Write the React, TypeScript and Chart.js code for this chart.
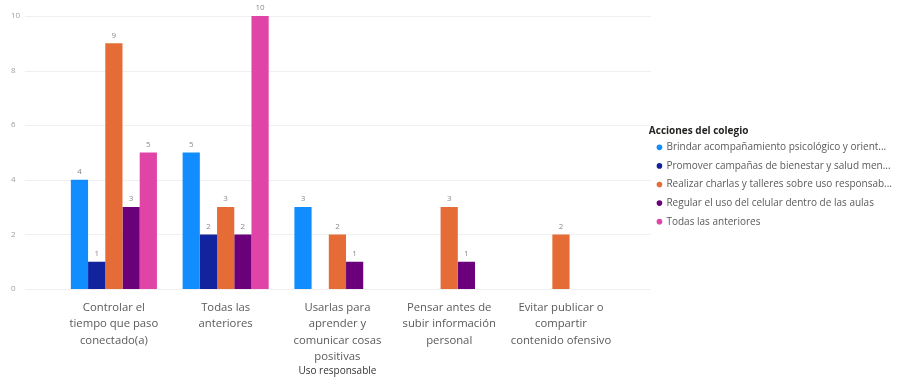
import React, { useEffect, useRef } from "react";
import { Chart, registerables } from "chart.js";

Chart.register(...registerables);

const categories: string[][] = [
  ["Controlar el", "tiempo que paso", "conectado(a)"],
  ["Todas las", "anteriores"],
  ["Usarlas para", "aprender y", "comunicar cosas", "positivas"],
  ["Pensar antes de", "subir información", "personal"],
  ["Evitar publicar o", "compartir", "contenido ofensivo"],
];
const parentCategory = "Uso responsable";
const legendTitle = "Acciones del colegio";

const seriesNames = [
  "Brindar acompañamiento psicológico y orient...",
  "Promover campañas de bienestar y salud men...",
  "Realizar charlas y talleres sobre uso responsab...",
  "Regular el uso del celular dentro de las aulas",
  "Todas las anteriores",
];
const brindar: (number | null)[] = [4, 5, 3, null, null];
const promover: (number | null)[] = [1, 2, null, null, null];
const realizar: (number | null)[] = [9, 3, 2, 3, 2];
const regular: (number | null)[] = [3, 2, 1, 1, null];
const todas: (number | null)[] = [5, 10, null, null, null];
const seriesColors = ["#118DFF", "#12239E", "#E66C37", "#6B007B", "#E044A7"];
const yTicks = [0, 2, 4, 6, 8, 10];

const FONT = "'Open Sans', 'Noto Sans', sans-serif";

export default function App() {
  const ref = useRef<HTMLCanvasElement | null>(null);
  useEffect(() => {
    if (!ref.current) return;
    const values = [brindar, promover, realizar, regular, todas];
    const gridPlugin = {
      id: "extGrid",
      beforeDatasetsDraw(chart: any) {
        const { ctx, chartArea, scales } = chart;
        const y = scales.y;
        ctx.save();
        ctx.strokeStyle = "#f0f0f0";
        ctx.lineWidth = 1;
        yTicks.forEach((v) => {
          const py = Math.round(y.getPixelForValue(v)) + 0.5;
          ctx.beginPath();
          ctx.moveTo(chartArea.left - 33, py);
          ctx.lineTo(chartArea.right + 34, py);
          ctx.stroke();
        });
        ctx.restore();
      },
    };
    const labelPlugin = {
      id: "barLabels",
      afterDatasetsDraw(chart: any) {
        const { ctx } = chart;
        ctx.save();
        ctx.font = `8px ${FONT}`;
        ctx.fillStyle = "#8a8a8a";
        ctx.textAlign = "center";
        ctx.textBaseline = "bottom";
        chart.data.datasets.forEach((ds: any, i: number) => {
          const meta = chart.getDatasetMeta(i);
          meta.data.forEach((el: any, j: number) => {
            const v = ds.data[j];
            if (v === null || v === undefined) return;
            ctx.fillText(String(v), el.x, el.y - 4);
          });
        });
        ctx.restore();
      },
    };
    const chart = new Chart(ref.current, {
      type: "bar",
      data: {
        labels: categories as any,
        datasets: seriesNames.map((name, i) => ({
          label: name,
          data: values[i],
          backgroundColor: seriesColors[i],
          borderWidth: 0,
          categoryPercentage: 0.77,
          barPercentage: 1.0,
        })),
      },
      options: {
        animation: false,
        responsive: true,
        maintainAspectRatio: false,
        layout: { padding: { top: 16, left: 11, right: 18, bottom: 2 } },
        plugins: {
          tooltip: { enabled: false },
          legend: {
            position: "right",
            align: "center",
            fullSize: false,
            maxWidth: 320,
            title: {
              display: true,
              text: legendTitle,
              position: "start",
              color: "#252423",
              font: { family: FONT, size: 10, weight: "bold", lineHeight: 1.2 },
              padding: { top: 56, bottom: -4 },
            },
            labels: {
              usePointStyle: true,
              pointStyle: "circle",
              boxWidth: 4,
              boxHeight: 4,
              padding: 8.6,
              color: "#5a5a5a",
              font: { family: FONT, size: 10 },
            },
          },
        },
        scales: {
          x: {
            grid: { display: false, drawTicks: false },
            border: { display: false },
            afterFit: (s: any) => {
              s.height = 90;
            },
            ticks: {
              color: "#5a5a5a",
              padding: 10.5,
              maxRotation: 0,
              autoSkip: false,
              font: { family: FONT, size: 11.3, lineHeight: 1.46 },
            },
            title: {
              display: true,
              text: parentCategory,
              color: "#333333",
              font: { family: FONT, size: 10, lineHeight: 1.2 },
              padding: { top: 0, bottom: 2 },
            },
          },
          y: {
            min: 0,
            max: 10,
            grid: { display: false, drawTicks: false },
            border: { display: false },
            afterBuildTicks: (s: any) => {
              s.ticks = yTicks.map((v) => ({ value: v }));
            },
            afterFit: (s: any) => {
              s.width = 47;
            },
            ticks: {
              color: "#a0a0a0",
              padding: 0,
              crossAlign: "far",
              font: { family: FONT, size: 8 },
            },
          },
          spacer: {
            type: "linear",
            position: "right",
            display: true,
            grid: { display: false, drawTicks: false },
            border: { display: false },
            ticks: { display: false, padding: 0 },
            afterFit: (s: any) => {
              s.width = 32;
            },
          },
        },
      } as any,
      plugins: [gridPlugin, labelPlugin],
    });
    return () => chart.destroy();
  }, []);
  return (
    <div style={{ position: "absolute", left: 0, top: 0, width: 920, height: 381 }}>
      <canvas ref={ref} />
    </div>
  );
}
